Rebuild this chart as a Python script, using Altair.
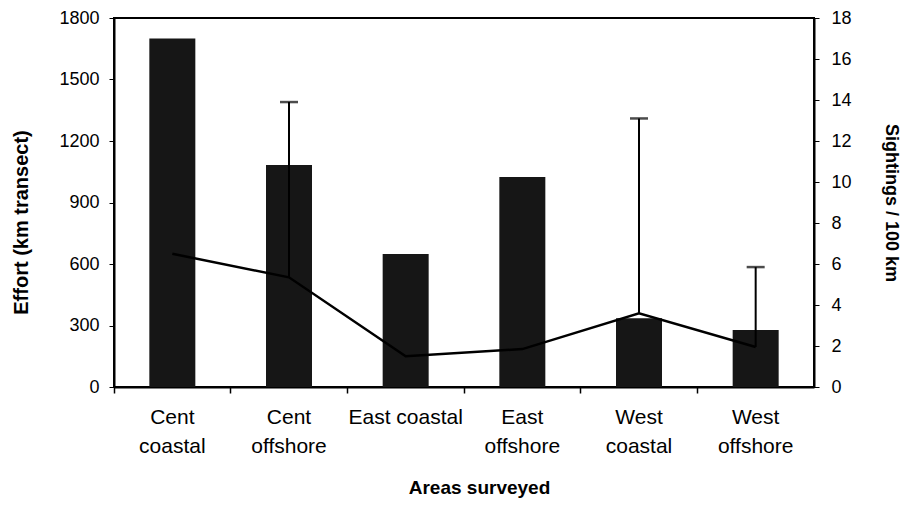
import altair as alt
import pandas as pd

areas = ["Cent coastal", "Cent offshore", "East coastal", "East offshore", "West coastal", "West offshore"]
effort = [1700, 1083, 649, 1024, 335, 278]
sightings = [6.5, 5.35, 1.5, 1.85, 3.6, 1.95]
err_areas = ["Cent offshore", "West coastal", "West offshore"]
err_upper = [13.9, 13.1, 5.85]

df = pd.DataFrame({"area": areas, "effort": effort, "sight": sightings})
sight_map = dict(zip(areas, sightings))
edf = pd.DataFrame({"area": err_areas, "lo": [sight_map[a] for a in err_areas], "hi": err_upper})

FONT = "Liberation Sans"
xs = alt.Scale(paddingInner=0, paddingOuter=0)

x_main = alt.X("area:N", sort=areas, title="Areas surveyed", scale=xs,
               axis=alt.Axis(labelAngle=0, ticks=True, tickSize=6, tickColor="black", tickWidth=1.5,
                             bandPosition=0,
                             domain=True, domainColor="black", domainWidth=2,
                             labelFontSize=21, labelFont=FONT, labelColor="black", labelPadding=13,
                             labelExpr="datum.label == 'East coastal' ? datum.label : split(datum.label, ' ')",
                             labelLineHeight=29, labelBound=False, labelFlush=False, labelOverlap=False,
                             titleFontSize=19, titleFont=FONT, titleFontWeight="bold", titleColor="black",
                             titleX=365, titleY=106, titleAlign="center", titleBaseline="alphabetic"))

bars = alt.Chart(df).mark_bar(color="#161616", width=46).encode(
    x=x_main,
    y=alt.Y("effort:Q", title="Effort (km transect)",
            scale=alt.Scale(domain=[0, 1800], nice=False),
            axis=alt.Axis(values=list(range(0, 1801, 300)), format="d", orient="left", grid=False,
                          domainColor="black", domainWidth=2, tickColor="black", tickSize=5,
                          labelFontSize=18, labelFont=FONT, labelColor="black", labelPadding=10,
                          titleFontSize=20, titleFont=FONT, titleFontWeight="bold", titleColor="black",
                          titleAngle=-90, titleX=-93, titleY=204, titleAlign="center",
                          titleBaseline="middle"))
)

yr = alt.Scale(domain=[0, 18], nice=False)
line = alt.Chart(df).mark_line(color="black", strokeWidth=2.5).encode(
    x=alt.X("area:N", sort=areas, scale=xs),
    y=alt.Y("sight:Q", title="Sightings / 100 km", scale=yr,
            axis=alt.Axis(values=list(range(0, 19, 2)), format="d", orient="right", grid=False,
                          domainColor="black", domainWidth=2, tickColor="black", tickSize=5,
                          labelFontSize=18, labelFont=FONT, labelColor="black", labelPadding=12,
                          titleFontSize=18, titleFont=FONT, titleFontWeight="bold", titleColor="black",
                          titleAngle=90, titlePadding=30))
)
rule = alt.Chart(edf).mark_rule(color="black", strokeWidth=2).encode(
    x=alt.X("area:N", sort=areas, scale=xs),
    y=alt.Y("lo:Q", scale=yr, axis=None),
    y2="hi:Q"
)
cap = alt.Chart(edf).mark_tick(color="black", orient="horizontal", size=18, thickness=2.5).encode(
    x=alt.X("area:N", sort=areas, scale=xs),
    y=alt.Y("hi:Q", scale=yr, axis=None)
)

chart = alt.layer(bars, line, rule, cap).resolve_scale(y="independent").properties(
    width=700, height=369,
    padding={"left": 106, "top": 10, "right": 88, "bottom": 115},
    autosize=alt.AutoSizeParams(type="none"),
    background="white"
).configure_view(stroke="black", strokeWidth=2)

chart.save("out.html", embed_options={"renderer": "svg", "actions": False})
